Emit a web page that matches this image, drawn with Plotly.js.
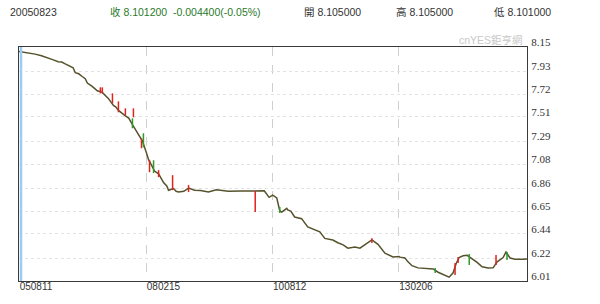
<!DOCTYPE html>
<html>
<head>
<meta charset="utf-8">
<script src="https://cdn.plot.ly/plotly-3.0.1.min.js"></script>
<style>html,body{margin:0;padding:0;background:#fff;}#chart{width:600px;height:304px;}</style>
</head>
<body>
<div id="chart"></div>
<script>
// ---- data ----
const dates = ['2005-08-11','2005-10-10','2005-12-05','2006-01-20','2006-03-09','2006-04-20','2006-05-20','2006-06-15','2006-07-10','2006-08-15','2006-09-05','2006-09-20','2006-10-15','2006-11-09','2006-12-01','2006-12-16','2007-01-20','2007-02-26','2007-04-03','2007-05-16','2007-06-22','2007-07-10','2007-07-28','2007-09-16','2007-10-10','2007-11-06','2007-12-12','2008-01-17','2008-02-15','2008-03-01','2008-03-22','2008-04-13','2008-05-12','2008-06-17','2008-07-10','2008-07-23','2008-08-28','2008-09-15','2008-10-03','2008-11-10','2008-12-14','2009-01-26','2009-03-10','2009-05-06','2009-07-02','2009-09-26','2009-12-28','2010-04-01','2010-06-12','2010-07-17','2010-08-12','2010-09-10','2010-10-02','2010-10-16','2010-11-21','2010-11-28','2010-12-20','2011-01-17','2011-02-10','2011-03-08','2011-04-21','2011-05-20','2011-07-17','2011-08-22','2011-09-20','2011-10-19','2011-11-24','2012-01-01','2012-02-04','2012-03-26','2012-05-01','2012-06-20','2012-07-26','2012-09-08','2012-10-28','2012-12-25','2013-02-06','2013-02-13','2013-03-21','2013-04-12','2013-05-11','2013-06-23','2013-08-27','2013-10-10','2013-11-15','2014-01-04','2014-02-02','2014-03-03','2014-03-25','2014-04-15','2014-05-14','2014-06-12','2014-07-18','2014-08-23','2014-09-28','2014-11-10','2014-12-16','2015-01-14','2015-02-26','2015-03-19','2015-04-17','2015-05-23','2015-07-19','2015-08-17'];
const closes = [8.110,8.098,8.085,8.070,8.045,8.030,8.015,8.012,7.995,7.975,7.960,7.915,7.905,7.880,7.860,7.820,7.790,7.750,7.735,7.680,7.615,7.600,7.570,7.520,7.500,7.440,7.370,7.290,7.180,7.120,7.070,7.015,6.990,6.910,6.880,6.840,6.855,6.830,6.825,6.830,6.860,6.840,6.838,6.825,6.845,6.830,6.832,6.830,6.835,6.775,6.795,6.770,6.650,6.640,6.675,6.660,6.650,6.595,6.590,6.580,6.505,6.490,6.460,6.400,6.395,6.385,6.360,6.340,6.310,6.320,6.310,6.355,6.385,6.345,6.265,6.230,6.235,6.228,6.220,6.185,6.150,6.130,6.128,6.120,6.090,6.065,6.045,6.085,6.170,6.225,6.240,6.245,6.215,6.180,6.140,6.128,6.130,6.185,6.225,6.275,6.220,6.210,6.210,6.212];

const upDates = ['2007-03-20','2007-04-03','2007-06-15','2007-07-28','2007-09-16','2007-11-13','2008-01-10','2008-03-08','2008-05-12','2008-08-21','2008-12-14','2010-04-08','2012-07-26','2014-03-17','2014-04-08','2015-01-06'];
const upHigh = [7.781,7.781,7.726,7.653,7.589,7.589,7.315,7.114,7.024,6.978,6.887,6.832,6.402,6.174,6.229,6.247];
const upLow  = [7.726,7.726,7.635,7.553,7.526,7.507,7.224,7.005,6.960,6.841,6.823,6.640,6.357,6.065,6.174,6.156];

const downDates = ['2007-11-06','2008-01-24','2008-04-06','2010-10-02','2013-10-25','2014-06-27','2015-03-26'];
const downHigh = [7.498,7.361,7.114,6.686,6.128,6.256,6.275];
const downLow  = [7.407,7.233,6.997,6.631,6.083,6.156,6.202];

const xTickDates = ['2005-08-11','2008-02-15','2010-08-12','2013-02-06'];
const xTickText = ['050811','080215','100812','130206'];
const yTickText = ['8.15','7.93','7.72','7.51','7.29','7.08','6.86','6.65','6.44','6.22','6.01'];

const header = {code:'20050823', close:'收 8.101200', change:'-0.004400(-0.05%)', open:'開 8.105000', high:'高 8.105000', low:'低 8.101000'};

// ---- build ----
function segs(d, hi, lo){
  const x=[], y=[];
  d.forEach((v,i)=>{ x.push(v,v,null); y.push(hi[i],lo[i],null); });
  return {x,y};
}
const up = segs(upDates, upHigh, upLow);
const dn = segs(downDates, downHigh, downLow);

const traces = [
  {x:dates, y:closes, type:'scatter', mode:'lines', line:{color:'#55522c', width:1.5}, hoverinfo:'skip', showlegend:false},
  {x:up.x, y:up.y, type:'scatter', mode:'lines', line:{color:'#e0231f', width:1.5}, connectgaps:false, showlegend:false},
  {x:dn.x, y:dn.y, type:'scatter', mode:'lines', line:{color:'#2e9a2a', width:1.5}, connectgaps:false, showlegend:false}
];

const W=508, H=234, L=19, T=47;
function px(xp){return (xp-L)/W;}
function py(yp){return (T+H-yp)/H;}
const hf = {family:'"Liberation Sans", "Noto Sans CJK TC", sans-serif', size:10.5};
function ann(text,x,color){return {text:text, xref:'paper', yref:'paper', x:px(x), y:py(12), xanchor:'left', yanchor:'middle', showarrow:false, font:Object.assign({},hf,{color:color})};}

const layout = {
  width:600, height:304,
  margin:{l:L, r:600-L-W, t:T, b:304-T-H},
  paper_bgcolor:'#fff', plot_bgcolor:'#fff',
  showlegend:false,
  xaxis:{type:'date', range:['2005-08-11','2015-08-17'], tickmode:'array', tickvals:xTickDates, ticktext:xTickText,
    showgrid:true, gridcolor:'#cfcfcf', griddash:'dash', gridwidth:1, zeroline:false,
    showline:true, linecolor:'#3a3a3a', linewidth:1, mirror:true, ticks:'',
    ticklabelshift:17, ticklabelstandoff:-4,
    tickfont:{family:'"Liberation Sans", sans-serif', size:10, color:'#333'}},
  yaxis:{range:[6.01,8.15], side:'right', tickmode:'array', tickvals:yTickText.map(Number), ticktext:yTickText,
    showgrid:true, gridcolor:'#e2e2e2', griddash:'dot', gridwidth:1, zeroline:false,
    showline:true, linecolor:'#3a3a3a', linewidth:1, mirror:true, ticks:'',
    ticklabelshift:-5, ticklabelstandoff:1,
    tickfont:{family:'"Liberation Serif", serif', size:11, color:'#333'}},
  shapes:[{type:'line', xref:'paper', yref:'paper', x0:0.004, x1:0.004, y0:0, y1:1, line:{color:'#9ccbf3', width:2.5}}],
  annotations:[
    ann(header.code, 8, '#333'),
    ann(header.close, 108, '#2a7a2a'),
    ann(header.change, 171, '#2a7a2a'),
    ann(header.open, 302, '#333'),
    ann(header.high, 394, '#333'),
    ann(header.low, 492, '#333'),
    {text:'cnYES鉅亨網', xref:'paper', yref:'paper', x:px(525), y:py(40), xanchor:'right', yanchor:'middle', showarrow:false,
     font:{family:'"Liberation Sans", "Noto Sans CJK TC", sans-serif', size:10.5, color:'#c9c9c9'}}
  ]
};
Plotly.newPlot('chart', traces, layout, {staticPlot:true, displayModeBar:false});
</script>
</body>
</html>
